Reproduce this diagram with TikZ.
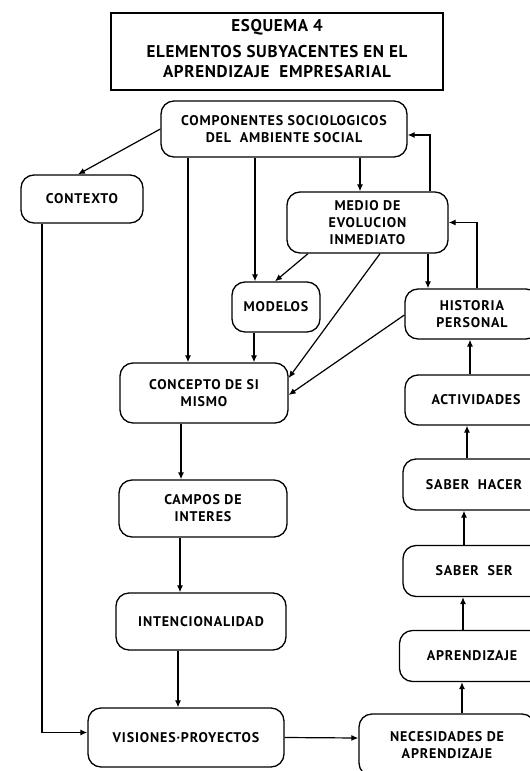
\documentclass[tikz,border=0pt]{standalone}
\usepackage{fontspec}
\setmainfont{PT Sans}
\newfontfamily\boxfont[LetterSpace=6]{PT Sans}
\newfontfamily\headfont[LetterSpace=4]{PT Sans}
\usetikzlibrary{arrows.meta,calc}
\tikzset{
  box/.style={draw, line width=1.3pt, rounded corners=13pt, inner sep=0pt,
    align=center, font=\boxfont\bfseries\fontsize{14}{17}\selectfont},
  frame/.style={draw, line width=2.6pt, inner sep=0pt},
  arr/.style={line width=1.2pt, -{Latex[length=7pt,width=6pt]}},
}
\begin{document}
\begin{tikzpicture}[x=1pt,y=-1pt]
\useasboundingbox (0,0) rectangle (530,771);
\clip (0,0) rectangle (530,771);
\fill[white] (0,0) rectangle (530,771);

% title
\node[frame, minimum width=332, minimum height=77] (title) at (277,51.5) {};
\node[font=\headfont\bfseries\fontsize{17}{19.5}\selectfont, align=center, inner sep=0pt]
  (ttl) at ([yshift=3pt]title.center)
  {ESQUEMA 4\\[7pt]ELEMENTOS SUBYACENTES EN EL\\APRENDIZAJE\ \ EMPRESARIAL};

% boxes
\node[box, minimum width=246, minimum height=56] (comp) at (284,129)
  {COMPONENTES SOCIOLOGICOS\\DEL\ \ AMBIENTE SOCIAL};
\node[box, minimum width=122, minimum height=48] (ctx) at (82,199) {CONTEXTO};
\node[box, minimum width=161, minimum height=61] (medio) at (367.5,222.5)
  {MEDIO DE\\EVOLUCION\\INMEDIATO};
\node[box, minimum width=88, minimum height=50] (modelos) at (276,307) {MODELOS};
\node[box, minimum width=134, minimum height=50] (hist) at (472,314)
  {HISTORIA\\PERSONAL};
\node[box, minimum width=142, minimum height=50] (activ) at (476,400) {ACTIVIDADES};
\node[box, minimum width=142, minimum height=51] (shacer) at (474,484.5)
  {SABER\ \ HACER};
\node[box, minimum width=142, minimum height=51] (sser) at (474,571)
  {SABER\ \ SER};
\node[box, minimum width=145, minimum height=51] (aprend) at (472,656)
  {APRENDIZAJE};
\node[box, minimum width=176, minimum height=62] (neces) at (447,745)
  {NECESIDADES DE\\APRENDIZAJE};
\node[box, minimum width=168, minimum height=60] (conc) at (204,393)
  {CONCEPTO DE SI\\MISMO};
\node[box, minimum width=168, minimum height=57] (campos) at (203,508.5)
  {CAMPOS DE\\INTERES};
\node[box, minimum width=170, minimum height=57] (intenc) at (201,621.5)
  {INTENCIONALIDAD};
\node[box, minimum width=196, minimum height=59] (vis) at (186,737.5)
  {VISIONES·PROYECTOS};

% connectors
\draw[arr] (comp.west) -- ([xshift=-4pt]ctx.north);
\draw[arr] ([xshift=-16pt]conc.north |- comp.south) -- ([xshift=-16pt]conc.north);
\draw[arr] ([xshift=-21pt]modelos.north |- comp.south) -- ([xshift=-21pt]modelos.north);
\draw[arr] ([xshift=-7.5pt]medio.north |- comp.south) -- ([xshift=-7.5pt]medio.north);
\draw[arr] ([xshift=62.5pt]medio.north) |- ([yshift=-6pt]comp.east);
\draw[arr] ([xshift=5pt]hist.north) |- (medio.east);
\draw[arr] ([xshift=-59.5pt]medio.south) -- ([xshift=-1pt]modelos.north);
\draw[arr] ([xshift=12.5pt]medio.south) -- ([yshift=15pt]conc.east);
\draw[arr] ([xshift=60.5pt]medio.south) -- ([xshift=-44pt]hist.north);
\draw[arr] ([yshift=-1pt]hist.west) -- ([yshift=-2pt]conc.east);
\draw[arr] ([xshift=-22pt]modelos.south) -- ([xshift=50pt]conc.north);
\draw[arr] ([xshift=-40pt]ctx.south) |- ([yshift=5pt]vis.west);
\draw[arr] ([xshift=-23pt]conc.south) -- ([xshift=-22pt]campos.north);
\draw[arr] ([xshift=-23pt]campos.south) -- ([xshift=-21pt]intenc.north);
\draw[arr] ([xshift=-23pt]intenc.south) -- ([xshift=-8pt]vis.north);
\draw[arr] (vis.east) -- ([yshift=7pt]neces.west);
\draw[arr] ([xshift=15pt]neces.north) -- ([xshift=-10pt]aprend.south);
\draw[arr] ([xshift=-9pt]aprend.north) -- ([xshift=-11pt]sser.south);
\draw[arr] ([xshift=-10pt]sser.north) -- ([xshift=-10pt]shacer.south);
\draw[arr] ([xshift=-7pt]shacer.north) -- ([xshift=-9pt]activ.south);
\draw[arr] ([xshift=-6pt]activ.north) -- ([xshift=-2pt]hist.south);
\end{tikzpicture}
\end{document}
